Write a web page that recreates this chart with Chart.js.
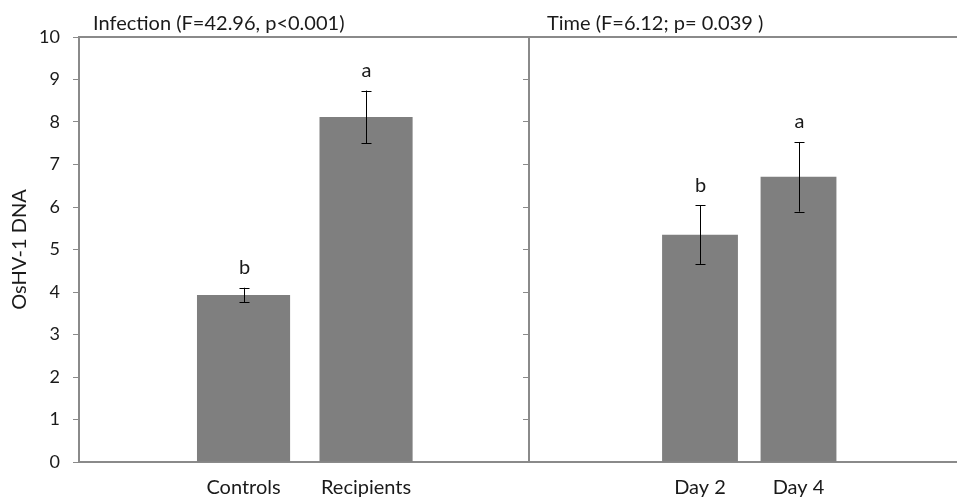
<!DOCTYPE html>
<html>
<head>
<meta charset="utf-8">
<script src="https://cdn.jsdelivr.net/npm/chart.js@4"></script>
<style>
  html, body { margin: 0; padding: 0; background: #fff; }
  #wrap { position: relative; width: 957px; height: 497px; overflow: hidden; }
  canvas { position: absolute; top: 0; }
</style>
</head>
<body>
<div id="wrap">
  <canvas id="left" width="530" height="497" style="left:0"></canvas>
  <canvas id="right" width="435" height="497" style="left:522px"></canvas>
</div>
<script>
// ---- data ----
const infectionCategories = ["Controls", "Recipients"];
const infectionMeans = [3.93, 8.12];
const infectionErrors = [0.17, 0.62];
const infectionLetters = ["b", "a"];
const infectionTitle = "Infection (F=42.96, p<0.001)";

const timeCategories = ["Day 2", "Day 4"];
const timeMeans = [5.35, 6.71];
const timeErrors = [0.69, 0.82];
const timeLetters = ["b", "a"];
const timeTitle = "Time (F=6.12; p= 0.039 )";

const yAxisTitle = "OsHV-1 DNA";
const yMin = 0, yMax = 10, yStep = 1;

// ---- styling ----
const FONT = "Lato, 'Open Sans', sans-serif";
const TEXT = "#1a1a1a";
const AXIS = "#8a8a8a";
const BAR = "#7f7f7f";

const panelPlugin = {
  id: "panelExtras",
  afterDatasetsDraw(chart) {
    const cfg = chart.options.plugins.panelExtras;
    const ctx = chart.ctx;
    const xs = chart.scales.x, ys = chart.scales.y;
    ctx.save();
    ctx.strokeStyle = "#000";
    ctx.lineWidth = 1;
    cfg.means.forEach((m, i) => {
      const px = Math.round(xs.getPixelForValue(i + 1)) + 0.5;
      const top = ys.getPixelForValue(m + cfg.errors[i]);
      const bot = ys.getPixelForValue(m - cfg.errors[i]);
      ctx.beginPath();
      ctx.moveTo(px, top); ctx.lineTo(px, bot);
      ctx.moveTo(px - 5, Math.round(top) + 0.5); ctx.lineTo(px + 5, Math.round(top) + 0.5);
      ctx.moveTo(px - 5, Math.round(bot) + 0.5); ctx.lineTo(px + 5, Math.round(bot) + 0.5);
      ctx.stroke();
      ctx.fillStyle = TEXT;
      ctx.font = "20px " + FONT;
      ctx.textAlign = "center";
      ctx.textBaseline = "middle";
      ctx.fillText(cfg.letters[i], px, top - 20);
    });
    ctx.font = "20px " + FONT;
    ctx.textAlign = "left";
    ctx.textBaseline = "middle";
    ctx.fillStyle = TEXT;
    ctx.fillText(cfg.title, chart.chartArea.left + cfg.titleOffset, 24);
    ctx.restore();
  }
};

function makePanel(canvasId, cats, means, errors, letters, title, opts) {
  const data = means.map((v, i) => ({ x: i + 1, y: v }));
  return new Chart(document.getElementById(canvasId), {
    type: "bar",
    data: {
      datasets: [{
        data: data,
        backgroundColor: BAR,
        borderWidth: 0,
        barPercentage: opts.barPct,
        categoryPercentage: 1
      }]
    },
    options: {
      responsive: false,
      animation: false,
      layout: { padding: { top: 37, right: opts.padRight, left: 0, bottom: 0 } },
      plugins: {
        legend: { display: false },
        tooltip: { enabled: false },
        panelExtras: { means, errors, letters, title, titleOffset: opts.titleOffset }
      },
      scales: {
        x: {
          type: "linear",
          position: "bottom",
          offset: false,
          min: opts.xMin, max: opts.xMax,
          afterBuildTicks: s => { s.ticks = cats.map((c, i) => ({ value: i + 1 })); },
          afterFit: s => { s.height = 35; },
          ticks: {
            callback: v => cats[v - 1],
            font: { family: FONT, size: 20 },
            color: TEXT,
            padding: 14,
            maxRotation: 0,
            autoSkip: false
          },
          grid: { display: false, drawTicks: false, offset: false },
          border: { display: true, color: AXIS, width: 2 }
        },
        xTop: {
          type: "linear",
          position: "top",
          offset: false,
          min: opts.xMin, max: opts.xMax,
          afterBuildTicks: s => { s.ticks = []; },
          afterFit: s => { s.height = 0; },
          ticks: { display: false },
          grid: { display: true, drawOnChartArea: false, drawTicks: false },
          border: { display: true, color: AXIS, width: 2 }
        },
        y: {
          min: yMin, max: yMax,
          afterFit: s => { s.width = opts.yWidth; },
          ticks: {
            display: opts.showYLabels,
            stepSize: yStep,
            font: { family: FONT, size: 18 },
            color: TEXT,
            padding: 13
          },
          grid: { display: true, drawOnChartArea: false, drawTicks: true, tickLength: 6, color: AXIS, lineWidth: 1 },
          border: { display: true, color: AXIS, width: 2 },
          title: {
            display: opts.showYLabels,
            text: yAxisTitle,
            font: { family: FONT, size: 20 },
            color: TEXT,
            padding: { top: 8, bottom: 0 }
          }
        }
      }
    },
    plugins: [panelPlugin]
  });
}

makePanel("left", infectionCategories, infectionMeans, infectionErrors, infectionLetters, infectionTitle,
  { xMin: -0.343, xMax: 3.33, barPct: 0.76, padRight: 1, yWidth: 79, showYLabels: true, titleOffset: 14 });
makePanel("right", timeCategories, timeMeans, timeErrors, timeLetters, timeTitle,
  { xMin: -0.736, xMax: 3.609, barPct: 0.77, padRight: 0, yWidth: 7, showYLabels: false, titleOffset: 18 });
</script>
</body>
</html>
